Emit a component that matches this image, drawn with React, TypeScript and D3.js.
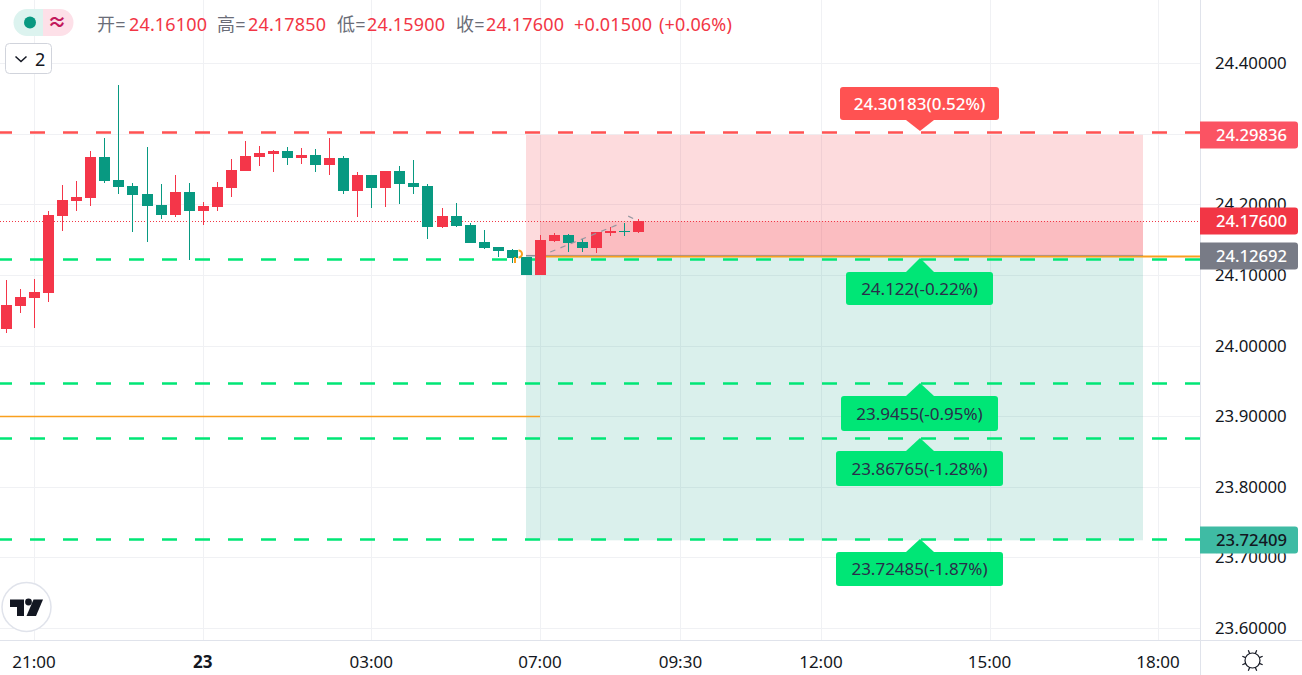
import React from "react";
import * as d3 from "d3";

const opens = [24.0234,24.0560,24.0673,24.0744,24.1834,24.2047,24.2089,24.2670,24.2344,24.2259,24.2146,24.1990,24.1849,24.2174,24.1905,24.1962,24.2231,24.2472,24.2670,24.2713,24.2755,24.2656,24.2698,24.2557,24.2656,24.2188,24.2415,24.2231,24.2472,24.2302,24.2259,24.1678,24.1834,24.1707,24.1466,24.1395,24.1353,24.1254,24.0999,24.1480,24.1565,24.1466,24.1381,24.1594,24.1622,24.1610];
const closes = [24.0574,24.0687,24.0758,24.1849,24.2061,24.2103,24.2670,24.2330,24.2245,24.2132,24.1976,24.1849,24.2174,24.1905,24.1976,24.2245,24.2486,24.2684,24.2727,24.2755,24.2656,24.2698,24.2557,24.2656,24.2188,24.2415,24.2231,24.2472,24.2288,24.2245,24.1678,24.1834,24.1693,24.1452,24.1381,24.1339,24.1239,24.0999,24.1494,24.1565,24.1452,24.1381,24.1608,24.1622,24.1608,24.1760];
const highs = [24.0928,24.0800,24.0942,24.1905,24.2273,24.2330,24.2755,24.2939,24.3690,24.2302,24.2812,24.2288,24.2415,24.2302,24.2033,24.2316,24.2642,24.2897,24.2826,24.2769,24.2812,24.2797,24.2783,24.2939,24.2684,24.2458,24.2415,24.2472,24.2542,24.2627,24.2288,24.1948,24.2018,24.1735,24.1636,24.1395,24.1367,24.1254,24.1565,24.1594,24.1579,24.1509,24.1608,24.1678,24.1735,24.1785];
const lows = [24.0177,24.0460,24.0248,24.0616,24.1622,24.1905,24.1976,24.2302,24.2146,24.1608,24.1466,24.1792,24.1820,24.1211,24.1707,24.1905,24.2103,24.2472,24.2543,24.2458,24.2557,24.2571,24.2458,24.2415,24.2146,24.1820,24.1948,24.1962,24.2004,24.2146,24.1508,24.1664,24.1678,24.1452,24.1367,24.1254,24.1169,24.0999,24.0999,24.1466,24.1324,24.1324,24.1310,24.1551,24.1551,24.1590];

const priceTicks = [24.4, 24.3, 24.2, 24.1, 24.0, 23.9, 23.8, 23.7, 23.6];
const priceLabelTicks = [24.4, 24.2, 24.1, 24.0, 23.9, 23.8, 23.7, 23.6];
const timeTickIndex = [2, 14, 26, 38, 48, 58, 70, 82];
const timeTickLabel = ["21:00", "23", "03:00", "07:00", "09:30", "12:00", "15:00", "18:00"];

const entryPrice = 24.12692;
const lastPrice = 24.176;
const zoneTop = 24.29836;
const zoneBottom = 23.72409;
const oldLevel = 23.9003;
const redLevel = 24.30183;
const greenLevels = [24.122, 23.9455, 23.86765, 23.72485];
const greenTexts = ["24.122(-0.22%)", "23.9455(-0.95%)", "23.86765(-1.28%)", "23.72485(-1.87%)"];
const projIdx = [38.7, 43.6];
const projPrice = [24.1324, 24.172];

const legendRed = "#f23645";
const legendGray = "#6a6d78";
const legendTexts = ["开=", "24.16100", "高=", "24.17850", "低=", "24.15900", "收=", "24.17600", "+0.01500", "(+0.06%)"];
const legendColors = [legendGray, legendRed, legendGray, legendRed, legendGray, legendRed, legendGray, legendRed, legendRed, legendRed];
const legendX = [97, 129, 217, 248, 337, 367, 456, 486, 574, 659];

const FONT = "'Noto Sans','Noto Sans CJK SC',sans-serif";
const UP = "#f43649";
const DOWN = "#089981";
const GRID = "#f0f1f4";
const W = 1302, H = 675;
const AXIS_X = 1200, AXIS_Y = 640;

const x = d3.scaleLinear().domain([0, 82]).range([6.5, 1158.6]);
const y = d3.scaleLinear().domain([24.2, 24.1]).range([204.3, 274.9]);
const dashLine = (v: number) => Math.round(y(v) - 0.5) + 0.5;

function Callout({ box, apexY, baseY, fill, text, color, weight }: any) {
  const [bx0, by0, bx1, by1] = box;
  const cx = 920;
  return (
    <g>
      <rect x={bx0} y={by0} width={bx1 - bx0} height={by1 - by0} rx={3} fill={fill} />
      <path d={`M${cx - 14},${baseY}L${cx},${apexY}L${cx + 14},${baseY}Z`} fill={fill} />
      <text x={(bx0 + bx1) / 2} y={(by0 + by1) / 2 + 6} textAnchor="middle" fontSize={17} fill={color} fontWeight={weight}>{text}</text>
    </g>
  );
}

function AxisTag({ v, fill, text, color }: any) {
  const cy = Math.round(y(v));
  return (
    <g>
      <path d={`M1200,${cy - 13.5}H1295a3,3 0 0 1 3,3V${cy + 10.5}a3,3 0 0 1 -3,3H1200Z`} fill={fill} />
      <text x={1216} y={cy + 6} fontSize={16.6} fill={color} fontWeight={500}>{text}</text>
    </g>
  );
}

function Gear() {
  const rays = d3.range(8).map((i) => (i * Math.PI) / 4 + Math.PI / 8);
  return (
    <g transform="translate(1252.5,660.5)" fill="none" stroke="#131722" strokeWidth={1.2}>
      <circle r={7.5} />
      {rays.map((a, i) => (
        <line key={i} x1={7.5 * Math.cos(a)} y1={7.5 * Math.sin(a)} x2={11 * Math.cos(a)} y2={11 * Math.sin(a)} />
      ))}
    </g>
  );
}

export default function App() {
  const yEntry = y(entryPrice);
  const yLast = y(lastPrice);
  const projLine = d3.line<number>().x((d) => x(d)).y((_, i) => y(projPrice[i]))(projIdx);
  const apexes = greenLevels.map((v) => Math.round(y(v)) - 1);
  const boxes = [
    [846, 272, 993, 305],
    [841, 396, 998, 431],
    [836, 451, 1003, 486],
    [836, 552, 1003, 586],
  ];
  return (
    <svg width={W} height={H} viewBox={`0 0 ${W} ${H}`} fontFamily={FONT}
      style={{ position: "fixed", left: 0, top: 0, background: "#fff", display: "block" }}>
      {/* grid */}
      {priceTicks.map((t) => (
        <line key={t} x1={0} x2={AXIS_X} y1={Math.round(y(t)) + 0.5} y2={Math.round(y(t)) + 0.5} stroke={GRID} />
      ))}
      {timeTickIndex.map((t) => (
        <line key={t} x1={Math.floor(x(t)) + 0.5} x2={Math.floor(x(t)) + 0.5} y1={0} y2={AXIS_Y} stroke={GRID} />
      ))}

      {/* zones */}
      <rect x={526} width={617} y={y(zoneTop)} height={yEntry - y(zoneTop)} fill="#f23645" fillOpacity={0.18} />
      <rect x={540} width={603} y={yLast} height={yEntry - yLast} fill="#f23645" fillOpacity={0.18} />
      <rect x={526} width={617} y={yEntry} height={y(zoneBottom) - yEntry} fill="#089981" fillOpacity={0.15} />

      {/* orange levels */}
      <line x1={0} x2={540} y1={Math.round(y(oldLevel)) + 0.5} y2={Math.round(y(oldLevel)) + 0.5} stroke="#f9a01e" strokeWidth={1.5} />
      <line x1={526} x2={540} y1={yEntry} y2={yEntry} stroke="#787b86" strokeWidth={1} />
      <line x1={540} x2={AXIS_X} y1={yEntry + 0.5} y2={yEntry + 0.5} stroke="#f9a01e" strokeWidth={2} />
      <line x1={526} x2={1143} y1={yEntry - 0.5} y2={yEntry - 0.5} stroke="#787b86" strokeWidth={0.8} strokeOpacity={0.7} />

      {/* dashed targets */}
      <line x1={0} x2={AXIS_X} y1={dashLine(redLevel)} y2={dashLine(redLevel)} stroke="#ff5252" strokeWidth={2.4} strokeDasharray="15 18" strokeDashoffset={3} />
      {greenLevels.map((v) => (
        <line key={v} x1={0} x2={AXIS_X} y1={dashLine(v)} y2={dashLine(v)} stroke="#00e676" strokeWidth={2.4} strokeDasharray="15 18" strokeDashoffset={3} />
      ))}

      {/* last price dotted */}
      <line x1={0} x2={AXIS_X} y1={Math.round(yLast) + 0.5} y2={Math.round(yLast) + 0.5} stroke="#f23645" strokeDasharray="1 2" />

      {/* candles */}
      {opens.map((o, i) => {
        const c = closes[i];
        const color = c >= o ? UP : DOWN;
        const left = Math.round(x(i) - 5.5);
        const top = Math.round(y(Math.max(o, c)));
        const bottom = Math.round(y(Math.min(o, c)));
        const hi = Math.round(y(highs[i]));
        const lo = Math.round(y(lows[i]));
        return (
          <g key={i} fill={color}>
            <rect x={left + 5} y={hi} width={1} height={Math.max(lo - hi, 1)} />
            <rect x={left} y={top} width={11} height={Math.max(bottom - top, 1)} />
          </g>
        );
      })}

      {/* projection and small marks */}
      <path d={projLine || ""} fill="none" stroke="#9598a1" strokeWidth={1.2} strokeDasharray="5.5 5.5" />
      <path d={`M${x(44.25)},${y(24.1833)}L${x(44.6)},${y(24.18)}`} fill="none" stroke="#9598a1" strokeWidth={1.2} />
      <path d="M518.5,250.5a3.5,3.5 0 0 1 0,7" fill="none" stroke="#f9a01e" strokeWidth={2} />
      <rect x={514} y={257} width={2} height={6} fill="#f9a01e" />

      {/* callouts */}
      <Callout box={[840, 87, 999, 120]} apexY={131} baseY={120} fill="#ff5252" text="24.30183(0.52%)" color="#ffffff" weight={500} />
      {greenLevels.map((_, i) => (
        <Callout key={i} box={boxes[i]} apexY={apexes[i]} baseY={boxes[i][1]} fill="#00e676" text={greenTexts[i]} color="#2a2e4a" weight={400} />
      ))}

      {/* axes */}
      <rect x={AXIS_X} y={0} width={W - AXIS_X} height={H} fill="#fff" />
      <rect x={0} y={AXIS_Y} width={W} height={H - AXIS_Y} fill="#fff" />
      <line x1={AXIS_X + 0.5} x2={AXIS_X + 0.5} y1={0} y2={H} stroke="#e0e3eb" />
      <line x1={0} x2={W} y1={AXIS_Y + 0.5} y2={AXIS_Y + 0.5} stroke="#e0e3eb" />
      {priceLabelTicks.map((t) => (
        <text key={t} x={1215} y={y(t) + 6} fontSize={16.8} fill="#131722">{d3.format(".5f")(t)}</text>
      ))}
      {timeTickIndex.map((t, i) => (
        <text key={t} x={x(t) - 0.5} y={668} textAnchor="middle" fontSize={17} fill="#131722" fontWeight={timeTickLabel[i] === "23" ? 700 : 400}>{timeTickLabel[i]}</text>
      ))}
      <AxisTag v={zoneTop} fill="#fb5363" text="24.29836" color="#fff" />
      <AxisTag v={lastPrice} fill="#f23645" text="24.17600" color="#fff" />
      <AxisTag v={entryPrice} fill="#787b86" text="24.12692" color="#fff" />
      <AxisTag v={zoneBottom} fill="#3fbba4" text="23.72409" color="#131722" />
      <Gear />

      {/* legend */}
      <path d="M43,9H27a13.5,13.5 0 0 0 0,27H43Z" fill="#dcf3ef" />
      <path d="M43,9H60a13.5,13.5 0 0 1 0,27H43Z" fill="#fde0e8" />
      <circle cx={30} cy={22.5} r={6} fill={DOWN} />
      <text x={57} y={29} fontSize={19} textAnchor="middle" fill="#c2185b" fontWeight={700}>≈</text>
      {legendTexts.map((t, i) => (
        <text key={i} x={legendX[i]} y={31} fontSize={18} letterSpacing={0.15} fill={legendColors[i]}>{t}</text>
      ))}

      {/* collapse button */}
      <rect x={5.5} y={43.5} width={46} height={30} rx={4} fill="#fff" stroke="#d1d4dc" />
      <path d="M15.5,56.5L21,61.5L26.5,56.5" fill="none" stroke="#131722" strokeWidth={1.5} />
      <text x={35} y={66} fontSize={18} fill="#131722">2</text>

      {/* logo */}
      <circle cx={26.5} cy={607} r={24.5} fill="#fff" stroke="#e0e3eb" strokeWidth={1.5} />
      <path d="M10,599.5H24V616H17V607H10Z" fill="#131722" />
      <circle cx={28.5} cy={602} r={3.4} fill="#131722" />
      <path d="M33.5,599.5H43L36,616H26.5Z" fill="#131722" />
    </svg>
  );
}
